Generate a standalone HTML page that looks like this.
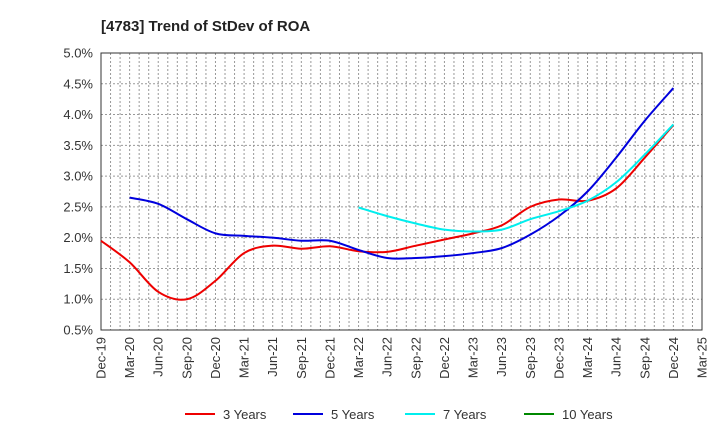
<!DOCTYPE html>
<html><head><meta charset="utf-8"><style>
body{margin:0;background:#fff;font-family:"Liberation Sans",sans-serif}
</style></head><body>
<svg id="c" width="720" height="440" xmlns="http://www.w3.org/2000/svg" font-family="Liberation Sans, sans-serif">
<text x="101" y="31" font-size="15" font-weight="bold" fill="#222">[4783]  Trend of StDev of ROA</text>
<g id="grid"></g><g id="axes"></g><g id="series"></g><g id="legend"></g>
</svg>
<script>
const xLabels=["Dec-19","Mar-20","Jun-20","Sep-20","Dec-20","Mar-21","Jun-21","Sep-21","Dec-21","Mar-22","Jun-22","Sep-22","Dec-22","Mar-23","Jun-23","Sep-23","Dec-23","Mar-24","Jun-24","Sep-24","Dec-24","Mar-25"];
const yTicks=[0.5,1.0,1.5,2.0,2.5,3.0,3.5,4.0,4.5,5.0];
const s3=[1.95,1.6,1.12,1.0,1.3,1.75,1.87,1.82,1.86,1.78,1.77,1.87,1.97,2.07,2.2,2.5,2.62,2.6,2.8,3.3,3.83];
const s5=[null,2.65,2.55,2.3,2.07,2.03,2.0,1.95,1.95,1.8,1.67,1.67,1.7,1.75,1.83,2.05,2.35,2.75,3.3,3.9,4.43];
const s7=[null,null,null,null,null,null,null,null,null,2.49,2.35,2.23,2.13,2.1,2.13,2.3,2.43,2.6,2.9,3.35,3.84];
const s10=[];
const L=101,R=702,T=53,B=330,NM=63;
const ns="http://www.w3.org/2000/svg";
function X(q){return L+q*3*(R-L)/NM}
function Y(v){return B-(v-0.5)*(B-T)/4.5}
function mk(t,a,p){const e=document.createElementNS(ns,t);for(const k in a)e.setAttribute(k,a[k]);(p||document.getElementById('c')).appendChild(e);return e}
const g=document.getElementById('grid'),ax=document.getElementById('axes'),se=document.getElementById('series'),lg=document.getElementById('legend');
for(let m=1;m<NM;m++){const x=L+m*(R-L)/NM;const l=mk('line',{x1:x,x2:x,y1:T,y2:B,stroke:'#999','stroke-dasharray':'2,2','stroke-width':1},g);

}
yTicks.forEach(v=>{const y=Y(v);const l=mk('line',{x1:L,x2:R,y1:y,y2:y,stroke:'#999','stroke-dasharray':'2,2'},g);


const t=mk('text',{x:93,y:y+4.5,'text-anchor':'end','font-size':13,fill:'#333'},ax);t.textContent=v.toFixed(1)+'%';

});
const fr=mk('rect',{x:L,y:T,width:R-L,height:B-T,fill:'none',stroke:'#333','stroke-width':1},ax);


xLabels.forEach((s,i)=>{const x=X(i);const t=mk('text',{x:0,y:0,transform:`translate(${x+4.5},337) rotate(-90)`,'text-anchor':'end','font-size':13,fill:'#333'},ax);t.textContent=s;

});
function path(d,color,name){const pts=[];d.forEach((v,i)=>{if(v!=null)pts.push([X(i),Y(v)])});if(pts.length<2)return;
let p=`M${pts[0][0]},${pts[0][1]}`;for(let i=0;i<pts.length-1;i++){const p0=pts[Math.max(0,i-1)],p1=pts[i],p2=pts[i+1],p3=pts[Math.min(pts.length-1,i+2)];
p+=` C${p1[0]+(p2[0]-p0[0])/6},${p1[1]+(p2[1]-p0[1])/6} ${p2[0]-(p3[0]-p1[0])/6},${p2[1]-(p3[1]-p1[1])/6} ${p2[0]},${p2[1]}`;}
const e=mk('path',{d:p,fill:'none',stroke:color,'stroke-width':2},se);

}
path(s3,'#ee0000','line-3-years');path(s5,'#0000dd','line-5-years');path(s7,'#00eeee','line-7-years');path(s10,'#008800','line-10-years');
[['3 Years','#ee0000',185],['5 Years','#0000dd',293],['7 Years','#00eeee',405],['10 Years','#008800',524]].forEach(([n,c,x])=>{
const gg=mk('g',{},lg);


mk('line',{x1:x,x2:x+30,y1:414,y2:414,stroke:c,'stroke-width':2},gg);
const t=mk('text',{x:x+38,y:419,'font-size':13,fill:'#333'},gg);t.textContent=n;});
</script>
</body></html>
